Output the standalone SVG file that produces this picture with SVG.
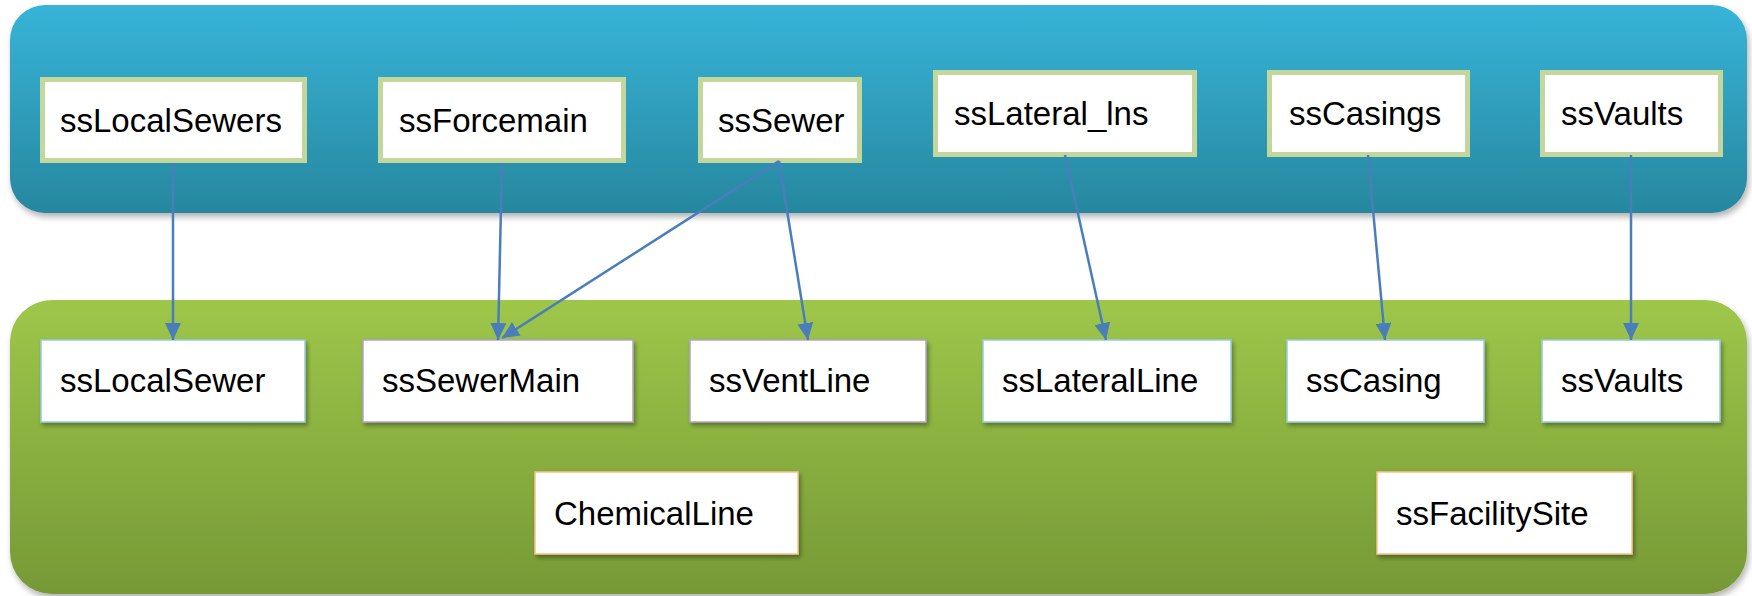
<svg xmlns="http://www.w3.org/2000/svg" width="1752" height="596" viewBox="0 0 1752 596">
<defs>
<linearGradient id="gBlue" x1="0" y1="0" x2="0" y2="1">
<stop offset="0" stop-color="#37b4d8"/>
<stop offset="1" stop-color="#27879f"/>
</linearGradient>
<linearGradient id="gGreen" x1="0" y1="0" x2="0" y2="1">
<stop offset="0" stop-color="#9ec74a"/>
<stop offset="1" stop-color="#769936"/>
</linearGradient>
<filter id="bandShadow" x="-5%" y="-10%" width="110%" height="125%">
<feDropShadow dx="2" dy="4" stdDeviation="3" flood-color="#000" flood-opacity="0.3"/>
</filter>
<filter id="boxShadow" x="-10%" y="-10%" width="125%" height="135%">
<feDropShadow dx="2" dy="3" stdDeviation="2" flood-color="#000" flood-opacity="0.35"/>
</filter>
<marker id="arrow" markerUnits="userSpaceOnUse" markerWidth="17" markerHeight="16" refX="17" refY="8" orient="auto">
<path d="M0,0 L17,8 L0,16 z" fill="#4a7ebb"/>
</marker>
</defs>
<style>
.top rect{fill:#fff;stroke:#c3d69b;stroke-width:5}
.bot rect{fill:#fff;stroke-width:1.5;filter:url(#boxShadow)}
.blue rect{stroke:#93cddd}
.purple rect{stroke:#b3a2c7}
.orange rect{stroke:#fac08f}
text{font-family:"Liberation Sans",Arial,sans-serif;font-size:33px;fill:#000}
#connectors line{stroke:#4a7ebb;stroke-width:2.5;marker-end:url(#arrow)}
</style>
<g id="bands">
<rect id="band-top" x="10" y="5" width="1737" height="208" rx="35" fill="url(#gBlue)" filter="url(#bandShadow)"/>
<rect id="band-bottom" x="10" y="300" width="1737" height="294" rx="42" fill="url(#gGreen)" filter="url(#bandShadow)"/>
</g>
<g id="n-ssLocalSewers" class="top"><rect x="42.5" y="79.5" width="262" height="81"/><text x="60" y="132">ssLocalSewers</text></g>
<g id="n-ssForcemain" class="top"><rect x="380.5" y="79.5" width="243" height="81"/><text x="399" y="132">ssForcemain</text></g>
<g id="n-ssSewer" class="top"><rect x="700.5" y="79.5" width="159" height="81"/><text x="718" y="132">ssSewer</text></g>
<g id="n-ssLateral_lns" class="top"><rect x="935.5" y="72.5" width="259" height="82"/><text x="954" y="125">ssLateral_lns</text></g>
<g id="n-ssCasings" class="top"><rect x="1269.5" y="72.5" width="198" height="82"/><text x="1289" y="125">ssCasings</text></g>
<g id="n-ssVaults-top" class="top"><rect x="1542.5" y="72.5" width="178" height="82"/><text x="1561" y="125">ssVaults</text></g>
<g id="n-ssLocalSewer" class="bot blue"><rect x="41" y="340" width="264" height="82"/><text x="60" y="392">ssLocalSewer</text></g>
<g id="n-ssSewerMain" class="bot purple"><rect x="363" y="340" width="270" height="82"/><text x="382" y="392">ssSewerMain</text></g>
<g id="n-ssVentLine" class="bot purple"><rect x="690" y="340" width="236" height="82"/><text x="709" y="392">ssVentLine</text></g>
<g id="n-ssLateralLine" class="bot blue"><rect x="983" y="340" width="248" height="82"/><text x="1002" y="392">ssLateralLine</text></g>
<g id="n-ssCasing" class="bot blue"><rect x="1287" y="340" width="197" height="82"/><text x="1306" y="392">ssCasing</text></g>
<g id="n-ssVaults-bottom" class="bot blue"><rect x="1542" y="340" width="178" height="82"/><text x="1561" y="392">ssVaults</text></g>
<g id="n-ChemicalLine" class="bot orange"><rect x="535" y="472" width="263" height="82"/><text x="554" y="525">ChemicalLine</text></g>
<g id="n-ssFacilitySite" class="bot orange"><rect x="1377" y="472" width="255" height="82"/><text x="1396" y="525">ssFacilitySite</text></g>
<g id="connectors">
<line x1="173" y1="163" x2="173" y2="340"/>
<line x1="502" y1="163" x2="498" y2="340"/>
<line x1="779" y1="161" x2="502" y2="338"/>
<line x1="779" y1="161" x2="808" y2="340"/>
<line x1="1065" y1="155" x2="1106" y2="340"/>
<line x1="1368" y1="155" x2="1385" y2="340"/>
<line x1="1631" y1="155" x2="1631" y2="340"/>
</g>
</svg>
